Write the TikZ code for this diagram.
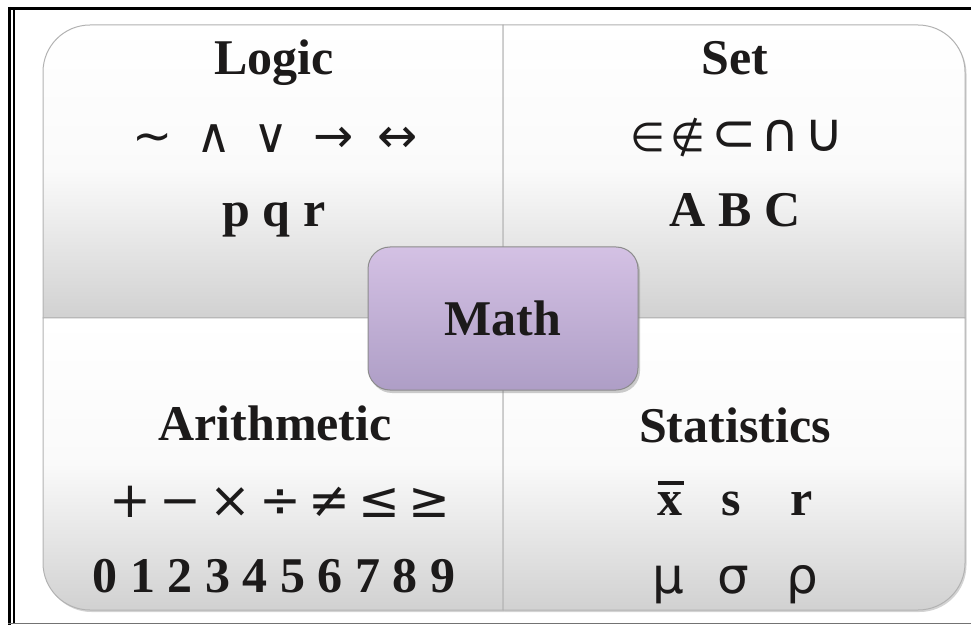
\documentclass[tikz,border=0pt]{standalone}
\usepackage{fontspec}
\setmainfont{Liberation Serif}
\newfontfamily\opsfont{DejaVu Sans}
\usetikzlibrary{shadows}

\definecolor{hubtop}{HTML}{D4C1E4}
\definecolor{hubbot}{HTML}{AE9EC6}
\definecolor{ink}{HTML}{1C1A1A}

\tikzset{
  panel/.style={draw=black!30, line width=1pt, top color=white, bottom color=black!18,
    middle color=black!2, drop shadow={shadow xshift=1.5pt, shadow yshift=-2pt, opacity=0.35}},
  hub/.style={draw=black!45, line width=1pt, rounded corners=22pt, top color=hubtop,
    bottom color=hubbot, minimum width=270pt, minimum height=143pt, text=ink,
    font=\fontsize{50pt}{60pt}\selectfont\bfseries,
    drop shadow={shadow xshift=2pt, shadow yshift=-3pt, opacity=0.4}},
  title/.style={anchor=base, text=ink, inner sep=0pt, font=\fontsize{50pt}{60pt}\selectfont\bfseries},
  ops/.style={anchor=base, text=ink, inner sep=0pt, font=\fontsize{#1}{60pt}\selectfont\opsfont},
  ops/.default=48pt
}
\newcommand\opsize[1]{\fontsize{#1}{60pt}\selectfont}

\begin{document}
\begin{tikzpicture}[x=1pt,y=1pt]
    \useasboundingbox (0,0) rectangle (971,627);

    % frame
    \draw[line width=2.2pt] (8,618.5) -- (462,618.5);
    \draw[line width=3.5pt] (462,618.5) -- (971,618.5);
    \draw[line width=3pt] (9.5,620) -- (9.5,2);
    \draw[line width=1.2pt] (14,617) -- (14,3);
    \draw[black!55, line width=1.5pt] (8,3.5) -- (971,3.5);

    % four panels
    \path[panel] (503,309) -- (43,309) -- (43,555) arc[start angle=180, end angle=90, radius=47pt] -- (503,602) -- cycle;
    \path[panel] (503,309) -- (503,602) -- (918,602) arc[start angle=90, end angle=0, radius=47pt] -- (965,309) -- cycle;
    \path[panel] (503,309) -- (43,309) -- (43,64) arc[start angle=180, end angle=270, radius=47pt] -- (503,17) -- cycle;
    \path[panel] (503,309) -- (503,17) -- (918,17) arc[start angle=270, end angle=360, radius=47pt] -- (965,309) -- cycle;

    % Logic
    \node[title] (logic) at (274,552) {Logic};
    \node[ops=48pt] (logicops) at (275,474) {∼\hspace{24pt}∧\hspace{22pt}∨\hspace{24pt}→\hspace{24pt}↔};
    \node[title] (pqr) at (274,400) {p q r};

    % Set
    \node[title] (set) at (735,552) {Set};
    \node[ops] (setops) at (737,475)
        {\opsize{40pt}∈\hspace{6pt}∉\hspace{6pt}\opsize{54pt}⊂\hspace{4pt}∩\hspace{4pt}∪};
    \node[title] (abc) at (735,400) {A B C};

    % Arithmetic
    \node[title] (arith) at (275,187) {Arithmetic};
    \node[ops=50pt] (arithops) at (280,110) {+\hspace{8pt}−\hspace{8pt}×\hspace{8pt}÷\hspace{8pt}≠\hspace{8pt}≤\hspace{8pt}≥};
    \node[title] (digits) at (274,35) {0 1 2 3 4 5 6 7 8 9};

    % Statistics
    \node[title] (stats) at (735,185) {Statistics};
    \node[title] (xbar) at (670,112) {\rlap{\rule[30pt]{26pt}{4.5pt}}x};
    \node[title] (s) at (731,112) {s};
    \node[title] (r) at (802,112) {r};
    \node[ops=50pt] (mu) at (668,34) {μ};
    \node[ops=50pt] (sigma) at (733,34) {σ};
    \node[ops=50pt] (rho) at (802,34) {ρ};

    % centre
    \node[hub] (math) at (503,308.5) {Math};
\end{tikzpicture}
\end{document}
